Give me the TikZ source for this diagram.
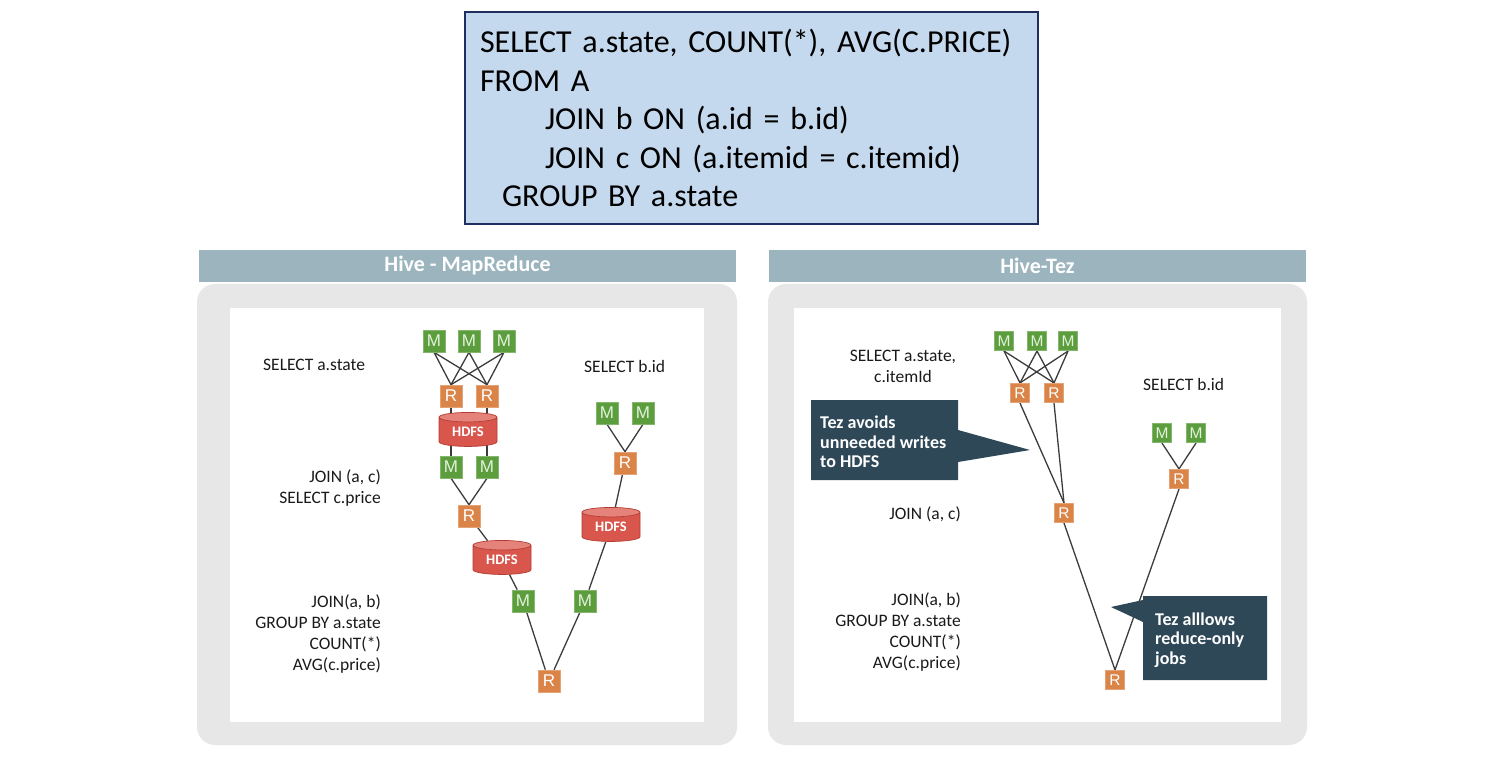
\documentclass[tikz,border=0pt]{standalone}
\usepackage{fontspec}
\setmainfont{Carlito}
\newfontfamily\boxfont{Liberation Sans}
\usetikzlibrary{shapes.geometric}
\definecolor{sqlfill}{HTML}{C5D9EE}
\definecolor{sqlborder}{HTML}{1F2F5F}
\definecolor{hdr}{HTML}{9BB4BE}
\definecolor{panel}{HTML}{E7E7E7}
\definecolor{mgreen}{HTML}{5C9E3E}
\definecolor{mtext}{HTML}{E3F1DC}
\definecolor{rorange}{HTML}{DA8448}
\definecolor{hdfsbody}{HTML}{D8564C}
\definecolor{hdfstop}{HTML}{E5837A}
\definecolor{hdfsline}{HTML}{B33C33}
\definecolor{edgecol}{HTML}{3C3C3C}
\definecolor{callout}{HTML}{2E4858}
\definecolor{lbltext}{HTML}{1A1A1A}
\pgfdeclarelayer{back}
\pgfdeclarelayer{edges}
\pgfsetlayers{back,edges,main}
\begin{document}
\begin{tikzpicture}[x=1pt,y=-1pt,
  mbox/.style={rectangle, fill=mgreen, draw=mgreen!75!white, line width=0.6pt,
    minimum size=22pt, inner sep=0pt, text=mtext, font=\boxfont\fontsize{17}{17}\selectfont},
  rbox/.style={mbox, fill=rorange, draw=rorange!75!white, text=white},
  msmall/.style={mbox, minimum size=19.5pt, font=\boxfont\fontsize{15.5}{15.5}\selectfont},
  rsmall/.style={rbox, minimum size=19.5pt, font=\boxfont\fontsize{15.5}{15.5}\selectfont},
  hdfs/.style={cylinder, shape border rotate=90, aspect=0.3, minimum width=58pt,
    minimum height=34pt, inner sep=0pt, draw=hdfsline, line width=0.7pt,
    cylinder uses custom fill, cylinder body fill=hdfsbody, cylinder end fill=hdfstop,
    text=white, font=\bfseries\fontsize{14.5}{14.5}\selectfont},
  edgeline/.style={draw=edgecol, line width=1.3pt},
  lbl/.style={inner sep=0pt, text=lbltext, font=\fontsize{17.5}{21}\selectfont},
  hdrbar/.style={rectangle, fill=hdr, inner sep=0pt, minimum height=32pt,
    minimum width=537pt, text=white, font=\bfseries\fontsize{22}{22}\selectfont},
  panelbox/.style={rectangle, rounded corners=18pt, fill=panel, inner sep=0pt},
  whitebox/.style={rectangle, fill=white, inner sep=0pt},
  calloutbox/.style={fill=callout},
  callouttext/.style={inner sep=0pt, text=white, align=left,
    font=\bfseries\fontsize{18}{19.5}\selectfont},
  sqlbox/.style={rectangle, fill=sqlfill, draw=sqlborder, line width=2pt,
    minimum width=573pt, minimum height=212pt, text width=543pt, inner xsep=15pt,
    inner ysep=0pt, align=left, text=black, font=\fontsize{32}{38.5}\selectfont}
]
\useasboundingbox (0,0) rectangle (1500,759);

% ---------- panels ----------
\begin{pgfonlayer}{back}
\fill[white] (0,0) rectangle (1500,759);
\node[panelbox, minimum width=540pt, minimum height=461pt] (panL) at (467,514.5) {};
\node[whitebox, minimum width=474pt, minimum height=414pt] (inL) at (467,515) {};
\node[panelbox, minimum width=539pt, minimum height=461pt] (panR) at (1037.5,514.5) {};
\node[whitebox, minimum width=487pt, minimum height=414pt] (inR) at (1037.5,515) {};
\end{pgfonlayer}

% ---------- SQL box ----------
\node[sqlbox] (sql) at (751.5,118) {SELECT a.state, COUNT(*), AVG(C.PRICE)\\
FROM A\\
\hspace*{65pt}JOIN b ON (a.id = b.id)\\
\hspace*{65pt}JOIN c ON (a.itemid = c.itemid)\\
\hspace*{22pt}GROUP BY a.state};

\node[hdrbar] (hdrL) at (467.5,266) {Hive - MapReduce};
\node[hdrbar] (hdrR) at (1037.5,266) {Hive-Tez};

% ---------- left diagram ----------
\node[mbox] (lm1) at (434,341) {M};
\node[mbox] (lm2) at (469,341) {M};
\node[mbox] (lm3) at (504,341) {M};
\node[rbox] (lr1) at (451,396) {R};
\node[rbox] (lr2) at (487,396) {R};
\node[hdfs] (lh1) at (468,432) {HDFS};
\node[mbox] (lm4) at (451,467) {M};
\node[mbox] (lm5) at (487,467) {M};
\node[rbox] (lr3) at (469,516) {R};
\node[hdfs] (lh2) at (502,560) {HDFS};
\node[mbox] (lm6) at (523,601) {M};
\node[mbox] (lm7) at (607,413) {M};
\node[mbox] (lm8) at (643,413) {M};
\node[rbox] (lr4) at (625,463) {R};
\node[hdfs] (lh3) at (611,527) {HDFS};
\node[mbox] (lm9) at (585,601) {M};
\node[rbox] (lr5) at (549,681) {R};

\begin{pgfonlayer}{edges}
\foreach \m in {lm1,lm2,lm3}{
  \foreach \r in {lr1,lr2}{
    \draw[edgeline] (\m.south) -- (\r.north);
  }
}
\draw[edgeline] (lr1) -- (lr1 |- lh1);
\draw[edgeline] (lr2) -- (lr2 |- lh1);
\draw[edgeline] (lm4) -- (lm4 |- lh1);
\draw[edgeline] (lm5) -- (lm5 |- lh1);
\draw[edgeline] (lm4.south) -- (lr3.north);
\draw[edgeline] (lm5.south) -- (lr3.north);
\draw[edgeline] (lr3) -- (lh2);
\draw[edgeline] (lh2) -- (lm6);
\draw[edgeline] (lm7.south) -- (lr4.north);
\draw[edgeline] (lm8.south) -- (lr4.north);
\draw[edgeline] (lr4) -- (lh3);
\draw[edgeline] (lh3) -- (lm9);
\draw[edgeline] (lm6) -- (lr5);
\draw[edgeline] (lm9) -- (lr5);
\end{pgfonlayer}

\node[lbl, anchor=west] (lt1) at (263,365) {SELECT a.state};
\node[lbl, anchor=west] (lt2) at (584,366) {SELECT b.id};
\node[lbl, anchor=east, align=right] (lt3) at (381,488) {JOIN (a, c)\\SELECT c.price};
\node[lbl, anchor=east, align=right] (lt4) at (381,634) {JOIN(a, b)\\GROUP BY a.state\\COUNT(*)\\AVG(c.price)};

% ---------- right diagram ----------
\node[msmall] (rm1) at (1004,341) {M};
\node[msmall] (rm2) at (1037,341) {M};
\node[msmall] (rm3) at (1068,341) {M};
\node[rsmall] (rr1) at (1020,393) {R};
\node[rsmall] (rr2) at (1054,393) {R};
\node[rsmall] (rr3) at (1064,513) {R};
\node[msmall] (rm4) at (1162,433) {M};
\node[msmall] (rm5) at (1196,433) {M};
\node[rsmall] (rr4) at (1179,479) {R};
\node[rsmall] (rr5) at (1115,680) {R};

\begin{pgfonlayer}{edges}
\foreach \m in {rm1,rm2,rm3}{
  \foreach \r in {rr1,rr2}{
    \draw[edgeline] (\m.south) -- (\r.north);
  }
}
\draw[edgeline] (rr1.south) -- (rr3.north);
\draw[edgeline] (rr2.south) -- (rr3.north);
\draw[edgeline] (rm4.south) -- (rr4.north);
\draw[edgeline] (rm5.south) -- (rr4.north);
\draw[edgeline] (rr3.south) -- (rr5.north);
\draw[edgeline] (rr4.south) -- (rr5.north);
\end{pgfonlayer}

\node[lbl, align=center] (rt1) at (903,366) {SELECT a.state,\\c.itemId};
\node[lbl, anchor=west] (rt2) at (1143,384) {SELECT b.id};
\node[lbl, anchor=east] (rt3) at (961,514) {JOIN (a, c)};
\node[lbl, anchor=east, align=right] (rt4) at (961,632) {JOIN(a, b)\\GROUP BY a.state\\COUNT(*)\\AVG(c.price)};

% ---------- callouts ----------
\coordinate (tip1) at (1030,450);
\coordinate (tip2) at (1111,607);
\fill[calloutbox] (811,400) -- (958,400) -- (958,430) -- (tip1) -- (958,462) -- (958,480) -- (811,480) -- cycle;
\node[callouttext, anchor=west] (c1) at (820,442) {Tez avoids\\unneeded writes\\to HDFS};
\fill[calloutbox] (1143,596) -- (1267,596) -- (1267,680) -- (1143,680) -- (1143,622) -- (tip2) -- (1143,600) -- cycle;
\node[callouttext, anchor=west] (c2) at (1155,640) {Tez alllows\\reduce-only\\jobs};
\end{tikzpicture}
\end{document}
